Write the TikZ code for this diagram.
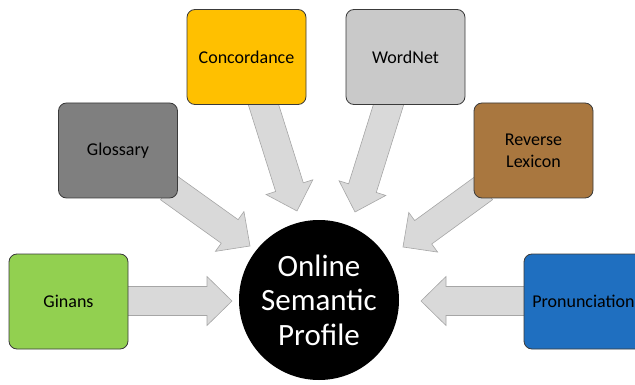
\documentclass[tikz,border=0pt]{standalone}
\usepackage{fontspec}
\setmainfont{Carlito}
\usetikzlibrary{calc}

\definecolor{arrowfill}{HTML}{D9D9D9}
\definecolor{arrowline}{HTML}{A6A6A6}
\definecolor{boxline}{HTML}{3A3A3A}
\definecolor{cGinans}{HTML}{92D050}
\definecolor{cGlossary}{HTML}{7F7F7F}
\definecolor{cConcord}{HTML}{FFC000}
\definecolor{cWordNet}{HTML}{C9C9C9}
\definecolor{cReverse}{HTML}{A9773F}
\definecolor{cPronun}{HTML}{1F6FC0}

% block arrow from tail #1 to tip #2: shaft 29, head 49 wide and 25 long
\newcommand{\blockarrow}[2]{%
  \path ($(#2)!25pt!(#1)$) coordinate (hb);
  \draw[blockarr]
    ($(#1)!14.5pt!90:(#2)$) -- ($(hb)!14.5pt!-90:(#1)$) --
    ($(hb)!24.5pt!-90:(#1)$) -- (#2) --
    ($(hb)!24.5pt!90:(#1)$) -- ($(hb)!14.5pt!90:(#1)$) --
    ($(#1)!14.5pt!-90:(#2)$) -- cycle;
}

\tikzset{
  blockarr/.style={fill=arrowfill, draw=arrowline, line width=0.6pt, line join=miter},
  source/.style={draw=boxline, line width=0.8pt, rounded corners=8pt,
    minimum width=119pt, minimum height=95pt, inner sep=2pt,
    font=\fontsize{18}{22}\selectfont, align=center, text=black},
  hub/.style={circle, fill=black, minimum size=160pt, inner sep=0pt,
    text=white, align=center, font=\fontsize{31}{34.5}\selectfont}
}

\begin{document}
\begin{tikzpicture}[x=1pt, y=-1pt]
  \useasboundingbox (0,0) rectangle (635,385);
  \clip (0,0) rectangle (635,385);

  % arrow ends
  \coordinate (tGin) at (126,301);
  \coordinate (pGin) at (232,301);
  \coordinate (tGlo) at (169,188);
  \coordinate (pGlo) at (250,246);
  \coordinate (tCon) at (262,100);
  \coordinate (pCon) at (297,211);
  \coordinate (tWor) at (390,100);
  \coordinate (pWor) at (355,212);
  \coordinate (tRev) at (484,188);
  \coordinate (pRev) at (403,247);
  \coordinate (tPro) at (526,301);
  \coordinate (pPro) at (421,301);

  \blockarrow{tGin}{pGin}
  \blockarrow{tGlo}{pGlo}
  \blockarrow{tCon}{pCon}
  \blockarrow{tWor}{pWor}
  \blockarrow{tRev}{pRev}
  \blockarrow{tPro}{pPro}

  % sources
  \node[source, fill=cGinans]   (gin) at (68.5,301.5)  {Ginans};
  \node[source, fill=cGlossary] (glo) at (118,150.5)   {Glossary};
  \node[source, fill=cConcord]  (con) at (246.5,57)    {Concordance};
  \node[source, fill=cWordNet]  (wor) at (405.5,57)    {WordNet};
  \node[source, fill=cReverse]  (rev) at (533.5,150.5) {Reverse\\Lexicon};
  \node[source, fill=cPronun]   (pro) at (583.5,301.5) {Pronunciation};

  % hub
  \node[hub] (osp) at (319,300) {Online\\Semantic\\Profile};
\end{tikzpicture}
\end{document}
